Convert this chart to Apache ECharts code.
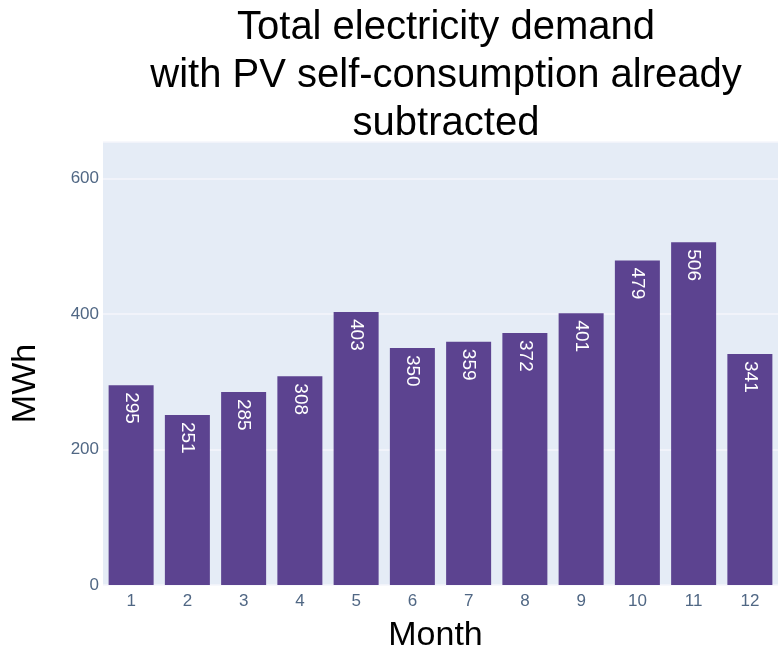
<!DOCTYPE html>
<html>
<head>
<meta charset="utf-8">
<script src="https://cdn.jsdelivr.net/npm/echarts@6/dist/echarts.min.js"></script>
<style>
  html, body { margin: 0; padding: 0; background: #fff; }
  #chart { width: 778px; height: 656px; }
</style>
</head>
<body>
<div id="chart"></div>
<script>
// months and demand values (MWh)
var months = ['1', '2', '3', '4', '5', '6', '7', '8', '9', '10', '11', '12']
var demand = [295, 251, 285, 308, 403, 350, 359, 372, 401, 479, 506, 341]
var yTicks = [0, 200, 400, 600]

var chart = echarts.init(document.getElementById('chart'))
chart.setOption({
  animation: false,
  title: {
    text: 'Total electricity demand\nwith PV self-consumption already\nsubtracted',
    left: 441,
    top: -1,
    textAlign: 'center',
    textStyle: {
      fontFamily: 'Liberation Sans',
      fontSize: 40,
      fontWeight: 'normal',
      color: '#000',
      lineHeight: 48,
    },
  },
  grid: {
    left: 103,
    right: 0,
    top: 142,
    bottom: 71,
    containLabel: false,
    outerBoundsMode: 'none',
    show: true,
    backgroundColor: '#e5ecf6',
    borderWidth: 0,
  },
  xAxis: {
    type: 'category',
    data: months,
    name: 'Month',
    nameLocation: 'middle',
    nameGap: 34,
    nameTextStyle: { fontFamily: 'Liberation Sans', fontSize: 34, color: '#000', padding: [0, 10, 0, 0] },
    axisLine: { show: false },
    axisTick: { show: false },
    axisLabel: { fontFamily: 'Liberation Sans', fontSize: 17, color: '#506784', margin: 8 },
  },
  yAxis: {
    type: 'value',
    min: 0,
    max: 654,
    interval: 200,
    name: 'MWh',
    nameLocation: 'middle',
    nameGap: 60,
    nameTextStyle: { fontFamily: 'Liberation Sans', fontSize: 34, color: '#000', padding: [0, 40, 0, 0] },
    axisLine: { show: false },
    axisTick: { show: false },
    axisLabel: {
      fontFamily: 'Liberation Sans',
      fontSize: 17,
      color: '#506784',
      margin: 4,
      formatter: function (v) {
        return yTicks.indexOf(v) >= 0 ? String(v) : ''
      },
    },
    splitLine: { lineStyle: { color: '#f4f6fb', width: 1.5 } },
  },
  series: [
    {
      type: 'bar',
      data: demand,
      barCategoryGap: '20%',
      itemStyle: { color: '#5c4390' },
      label: {
        show: true,
        position: 'insideTop',
        distance: 7,
        rotate: -90,
        align: 'left',
        verticalAlign: 'middle',
        fontFamily: 'Liberation Sans',
        fontSize: 19,
        color: '#fff',
      },
    },
  ],
})
</script>
</body>
</html>
